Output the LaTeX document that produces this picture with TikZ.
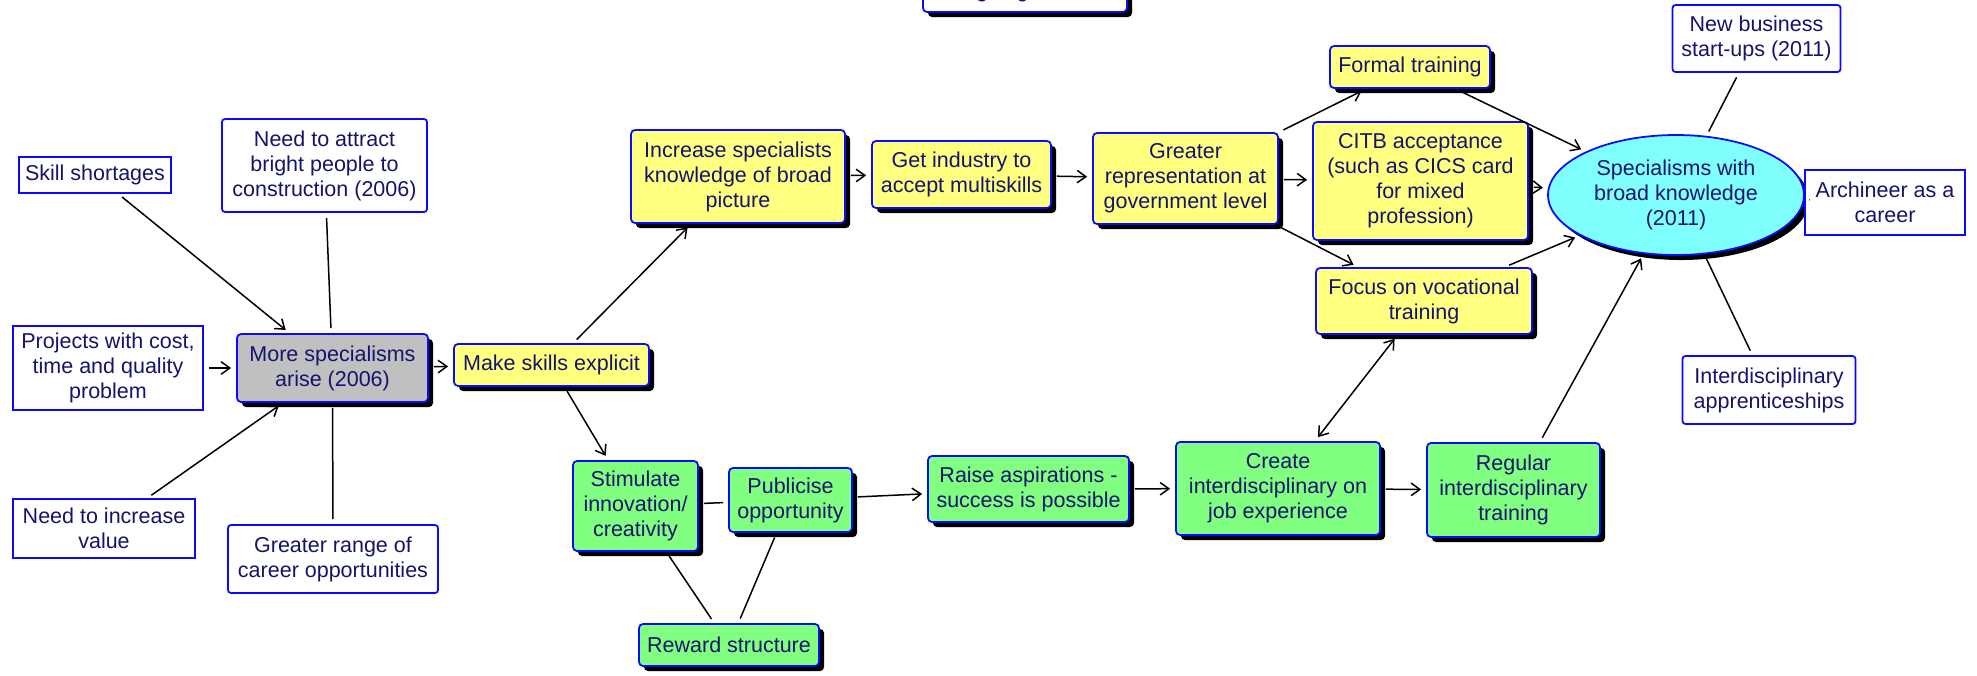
\documentclass[tikz,border=0pt]{standalone}
\usepackage{fontspec}
\setmainfont{Liberation Sans}
\usetikzlibrary{arrows.meta,shapes.geometric,shadows}

\definecolor{boxblue}{RGB}{10,10,255}
\definecolor{txtnavy}{RGB}{20,20,110}
\definecolor{fillyellow}{RGB}{255,255,128}
\definecolor{fillgreen}{RGB}{128,255,128}
\definecolor{fillgray}{RGB}{192,192,192}
\definecolor{fillcyan}{RGB}{128,255,255}

\tikzset{
    sz/.style 2 args={minimum width=#1*0.4pt, minimum height=#2*0.4pt},
    plainbox/.style={draw=boxblue, line width=0.7pt, fill=white, text=txtnavy, align=center,
        inner sep=1pt, font=\fontsize{8.6}{10}\selectfont},
    cause/.style={plainbox, rounded corners=1.2pt},
    stepbox/.style={plainbox, rounded corners=1.6pt,
        drop shadow={shadow xshift=2pt, shadow yshift=-2pt, fill=black, opacity=1}},
    link/.style={line width=0.6pt, shorten <=2pt, shorten >=2pt},
    arr/.style={link, -{Straight Barb[length=3.5pt,width=5pt]}},
    arrboth/.style={link, {Straight Barb[length=3.5pt,width=5pt]}-{Straight Barb[length=3.5pt,width=5pt]}}
}

\begin{document}
\begin{tikzpicture}[x=0.4pt, y=-0.4pt]
    \useasboundingbox (0,0) rectangle (1977,675);

    \node[plainbox, sz={152}{36}] (skill) at (95,175) {Skill shortages};
    \node[cause, sz={205}{93}] (attract) at (324.5,165.5) {Need to attract\\bright people to\\construction (2006)};
    \node[plainbox, sz={190}{84}] (projects) at (108,368) {Projects with cost,\\time and quality\\problem};
    \node[stepbox, fill=fillgray, sz={191}{68}] (more) at (332.5,368) {More specialisms\\arise (2006)};
    \node[plainbox, sz={182}{59}] (incvalue) at (104,528.5) {Need to increase\\value};
    \node[cause, sz={210}{68}] (range) at (333,559) {Greater range of\\career opportunities};

    \node[stepbox, fill=fillyellow, sz={195}{42}] (explicit) at (551.5,365) {Make skills explicit};
    \node[stepbox, fill=fillyellow, sz={214}{93}] (broad) at (738,176.5) {Increase specialists\\knowledge of broad\\picture};
    \node[stepbox, fill=fillyellow, sz={179}{67}] (industry) at (961.5,174.5) {Get industry to\\accept multiskills};
    \node[stepbox, fill=fillyellow, sz={185}{91}] (govt) at (1185.5,178.5) {Greater\\representation at\\government level};
    \node[stepbox, fill=fillyellow, sz={160}{42}] (formal) at (1410,67) {Formal training};
    \node[stepbox, fill=fillyellow, sz={215}{118}] (citb) at (1420.5,181) {CITB acceptance\\(such as CICS card\\for mixed\\profession)};
    \node[stepbox, fill=fillyellow, sz={216}{66}] (vocational) at (1424,301) {Focus on vocational\\training};

    \node[stepbox, fill=fillgreen, sz={125}{90}] (innovate) at (635.5,506) {Stimulate\\innovation/\\creativity};
    \node[stepbox, fill=fillgreen, sz={123}{64}] (publicise) at (790.5,500) {Publicise\\opportunity};
    \node[stepbox, fill=fillgreen, sz={180}{42}] (reward) at (729,645) {Reward structure};
    \node[stepbox, fill=fillgreen, sz={201}{66}] (aspire) at (1028.5,489) {Raise aspirations -\\success is possible};
    \node[stepbox, fill=fillgreen, sz={204}{93}] (jobexp) at (1278,488.5) {Create\\interdisciplinary on\\job experience};
    \node[stepbox, fill=fillgreen, sz={173}{94}] (regular) at (1513.5,490) {Regular\\interdisciplinary\\training};

    \node[stepbox, ellipse, fill=fillcyan, inner sep=0pt, sz={256}{120}] (goal) at (1676,195) {Specialisms with\\broad knowledge\\(2011)};
    \node[cause, sz={168}{67}] (startups) at (1756.5,38.5) {New business\\start-ups (2011)};
    \node[plainbox, sz={160}{65}] (archineer) at (1885,202.5) {Archineer as a\\career};
    \node[cause, sz={173}{68}] (apprentice) at (1769,390) {Interdisciplinary\\apprenticeships};

    \node[stepbox, sz={204}{40}] (designing) at (1025,-8) {Designing out skills};

    \draw[arr] (skill) -- (more);
    \draw[link] (attract) -- (more);
    \draw[arr] (projects) -- (more);
    \draw[arr] (incvalue) -- (more);
    \draw[link] (range) -- (more);
    \draw[arr] (more) -- (explicit);
    \draw[arr] (explicit) -- (broad);
    \draw[arr] (explicit) -- (innovate);
    \draw[arr] (broad) -- (industry);
    \draw[arr] (industry) -- (govt);
    \draw[arr] (govt) -- (formal);
    \draw[arr] (govt) -- (citb);
    \draw[arr] (govt) -- (vocational);
    \draw[arr] (formal) -- (goal);
    \draw[arr] (citb) -- (goal);
    \draw[arr] (vocational) -- (goal);
    \draw[link] (innovate) -- (publicise);
    \draw[link] (innovate) -- (reward);
    \draw[link] (publicise) -- (reward);
    \draw[arr] (publicise) -- (aspire);
    \draw[arr] (aspire) -- (jobexp);
    \draw[arr] (jobexp) -- (regular);
    \draw[arrboth] (jobexp) -- (vocational);
    \draw[arr] (regular) -- (goal);
    \draw[link] (goal) -- (startups);
    \draw[link] (goal) -- (archineer);
    \draw[link] (goal) -- (apprentice);
\end{tikzpicture}
\end{document}
